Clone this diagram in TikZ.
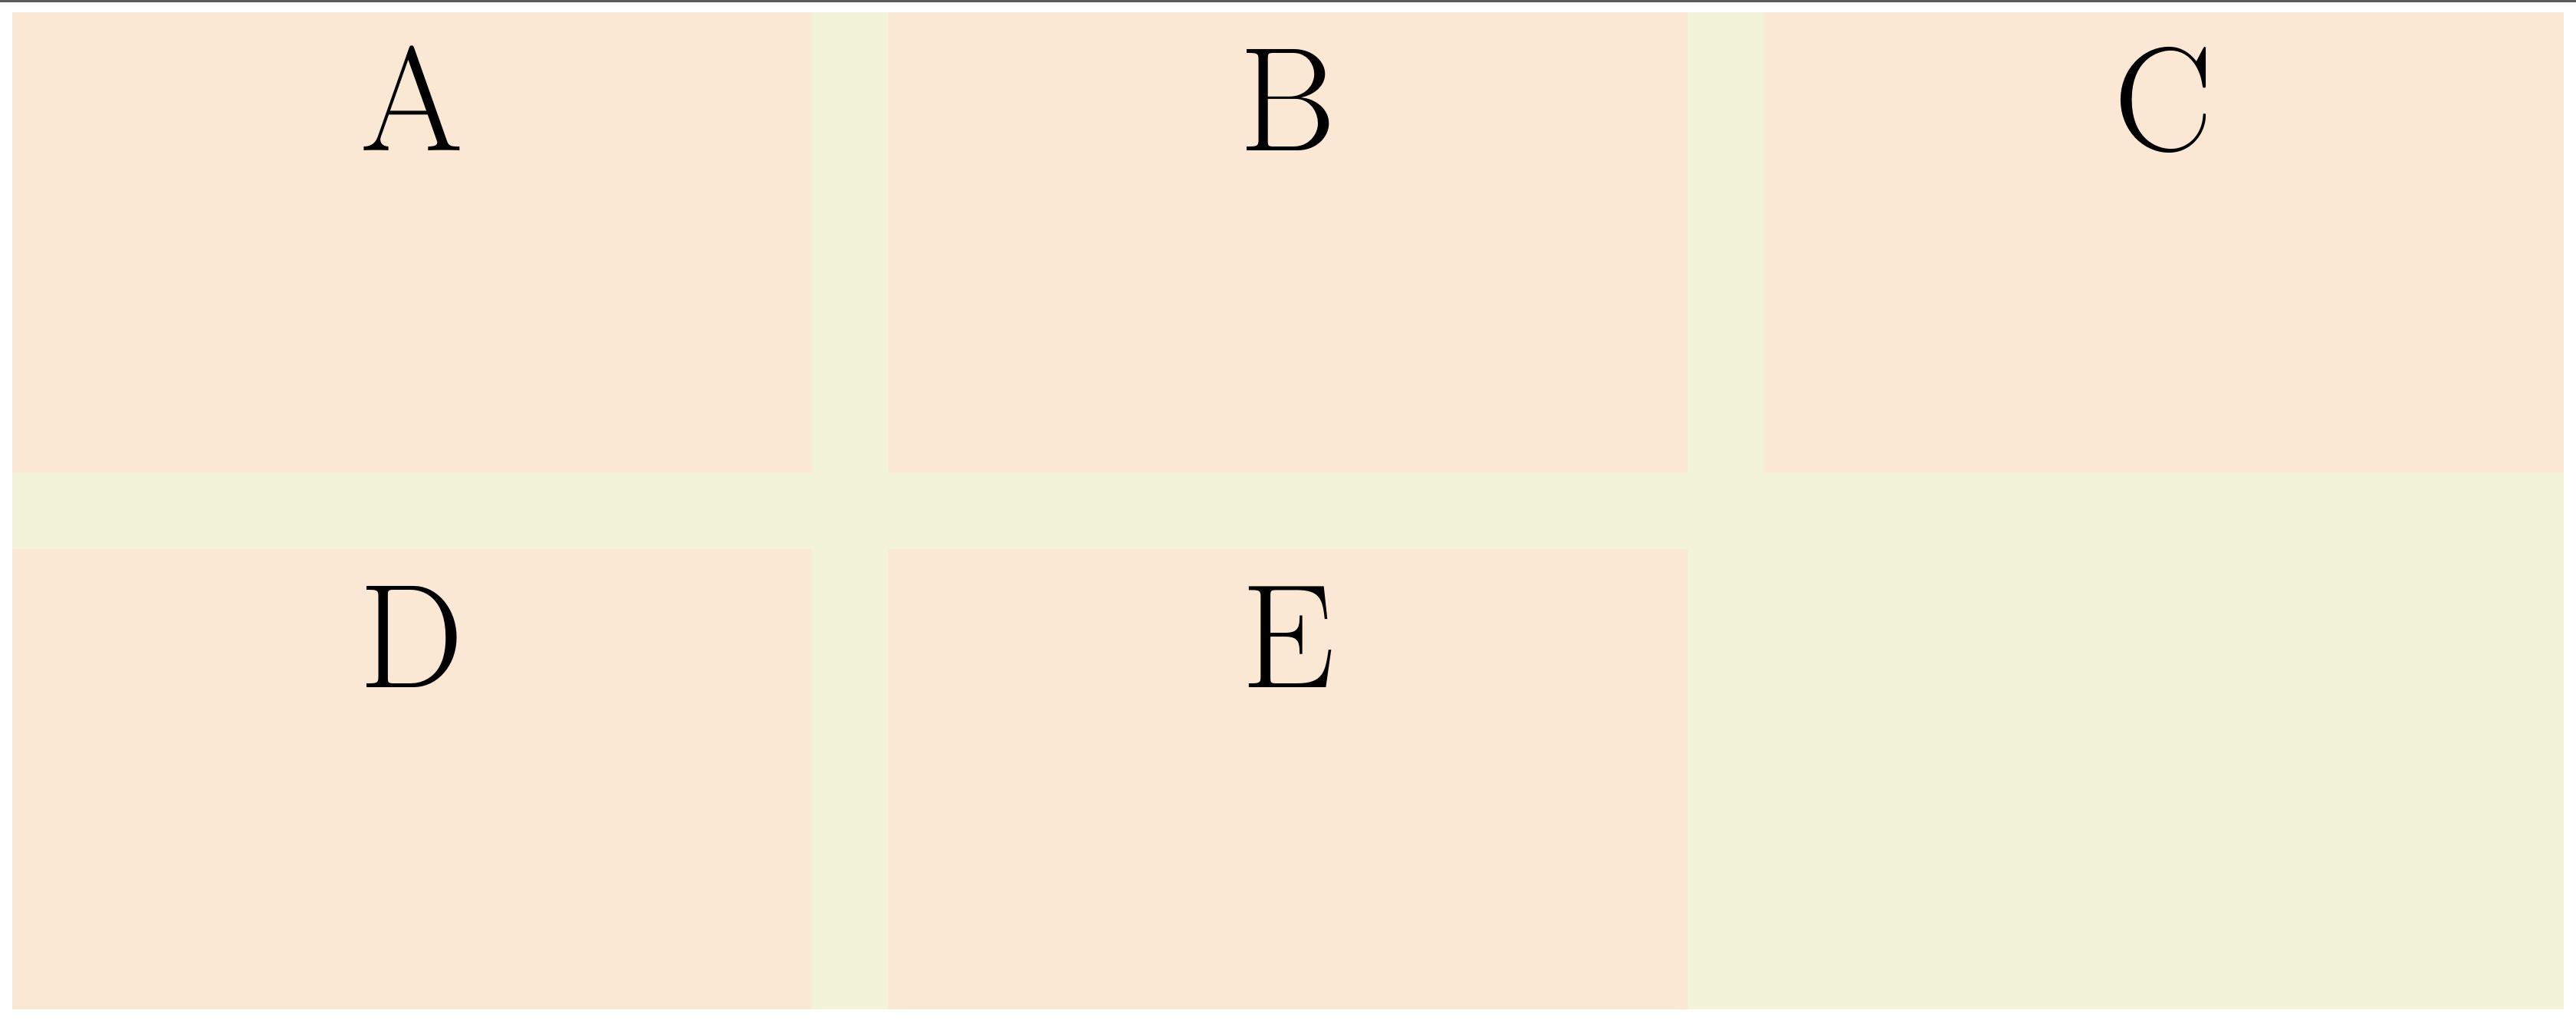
\documentclass[tikz,border=0pt]{standalone}
\usetikzlibrary{positioning}

\begin{document}
\begin{tikzpicture}[
    % Estilo para las celdas (rectangulos de color)
    celda/.style={
        fill=colorCelda, draw=none, inner sep=0pt, outer sep=0pt,
        minimum width=\anchoC cm, minimum height=\altoC cm
    },
    % Estilo para las letras
    letra/.style={
        font=\fontsize{55}{60}\selectfont, text=black, inner sep=0pt, anchor=base
    }
]
    % --- PARAMETROS ---
    \def\anchoC{10.426}
    \def\altoC{6.0}
    \def\hueco{1.0}
    \def\margen{0.16}

    % --- COLORES ---
    \definecolor{colorCelda}{RGB}{250, 232, 213}
    \definecolor{colorFondo}{RGB}{243, 243, 218}

    % Marco de la figura
    \useasboundingbox (0, 0) rectangle (33.6, -13.42);

    % 1. Fondo
    \fill[colorFondo] (\margen, -\margen) rectangle (33.6-\margen, -13.16);

    % 2. Linea superior
    \draw[black!65, line width=0.6pt] (0, -0.015) -- (33.6, -0.015);

    % 3. Celdas
    \node[celda, anchor=north west] (cA) at (\margen, -\margen) {};
    \node[celda, right=\hueco cm of cA] (cB) {};
    \node[celda, right=\hueco cm of cB] (cC) {};
    \node[celda, below=\hueco cm of cA] (cD) {};
    \node[celda, right=\hueco cm of cD] (cE) {};

    % 4. Letras
    \foreach \c in {A, B, C, D, E}
        \node[letra] (l\c) at ([yshift=-1.8cm]c\c.north) {\c};

\end{tikzpicture}
\end{document}
